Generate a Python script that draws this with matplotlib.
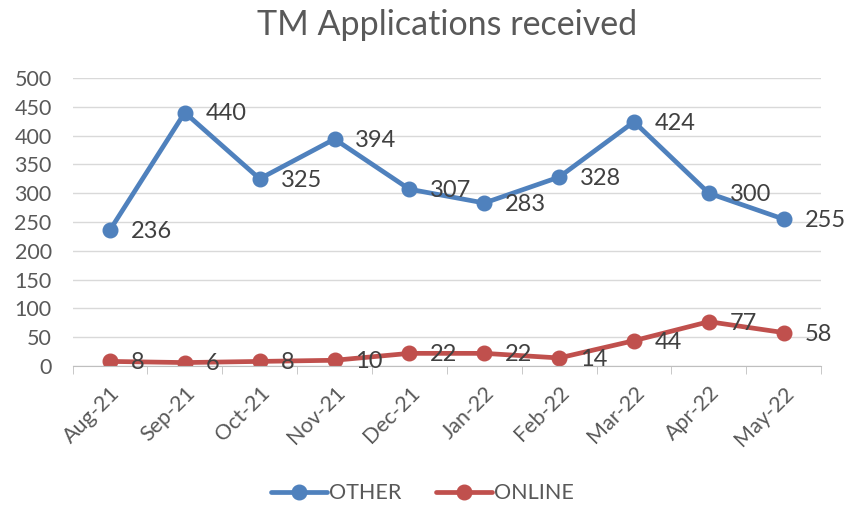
import matplotlib.pyplot as plt
import numpy as np

plt.rcParams['font.family'] = ['Lato', 'DejaVu Sans']

months = ["Aug-21", "Sep-21", "Oct-21", "Nov-21", "Dec-21", "Jan-22",
          "Feb-22", "Mar-22", "Apr-22", "May-22"]
other = [236, 440, 325, 394, 307, 283, 328, 424, 300, 255]
online = [8, 6, 8, 10, 22, 22, 14, 44, 77, 58]

txt = '#595959'
fig = plt.figure(figsize=(8.45, 5.05), dpi=100)
ax = fig.add_axes([0.0858, 0.2752, 0.886, 0.5703])

x = np.arange(len(months))
ax.plot(x, other, color='#4F81BD', lw=3.4, marker='o', ms=10.5, label='OTHER',
        solid_capstyle='round')
ax.plot(x, online, color='#C0504D', lw=3.4, marker='o', ms=10.5, label='ONLINE',
        solid_capstyle='round')

for xi, v in zip(x, other):
    ax.annotate(str(v), (xi, v), xytext=(15, -1), textcoords='offset points',
                va='center', ha='left', fontsize=17, color='#404040')
for xi, v in zip(x, online):
    ax.annotate(str(v), (xi, v), xytext=(15, -1), textcoords='offset points',
                va='center', ha='left', fontsize=17, color='#404040')

ax.set_xlim(-0.5, 9.5)
ax.set_ylim(0, 500)
ax.set_yticks(range(0, 501, 50))
ax.yaxis.grid(True, color='#D9D9D9', lw=1)
ax.set_axisbelow(True)
for s in ['top', 'right', 'left']:
    ax.spines[s].set_visible(False)
ax.spines['bottom'].set_color('#BFBFBF')
ax.tick_params(axis='y', length=0, labelsize=15.5, labelcolor=txt, pad=15)

ax.set_xticks(x)
ax.set_xticklabels(months, rotation=45, ha='right', rotation_mode='anchor',
                   fontsize=15.5, color=txt)
ax.tick_params(axis='x', length=0, pad=12)
ax.set_xticks(np.arange(-0.5, 10, 1), minor=True)
ax.tick_params(axis='x', which='minor', length=6, color='#BFBFBF')

ax.set_title("TM Applications received", fontsize=24.5, color=txt, pad=31)

fig.legend(loc='lower center', bbox_to_anchor=(0.5, -0.035), ncol=2, frameon=False,
           fontsize=15.5, labelcolor=txt, handlelength=2.6, columnspacing=1.6,
           handletextpad=0.1)

fig.savefig('out.png', dpi=100)
